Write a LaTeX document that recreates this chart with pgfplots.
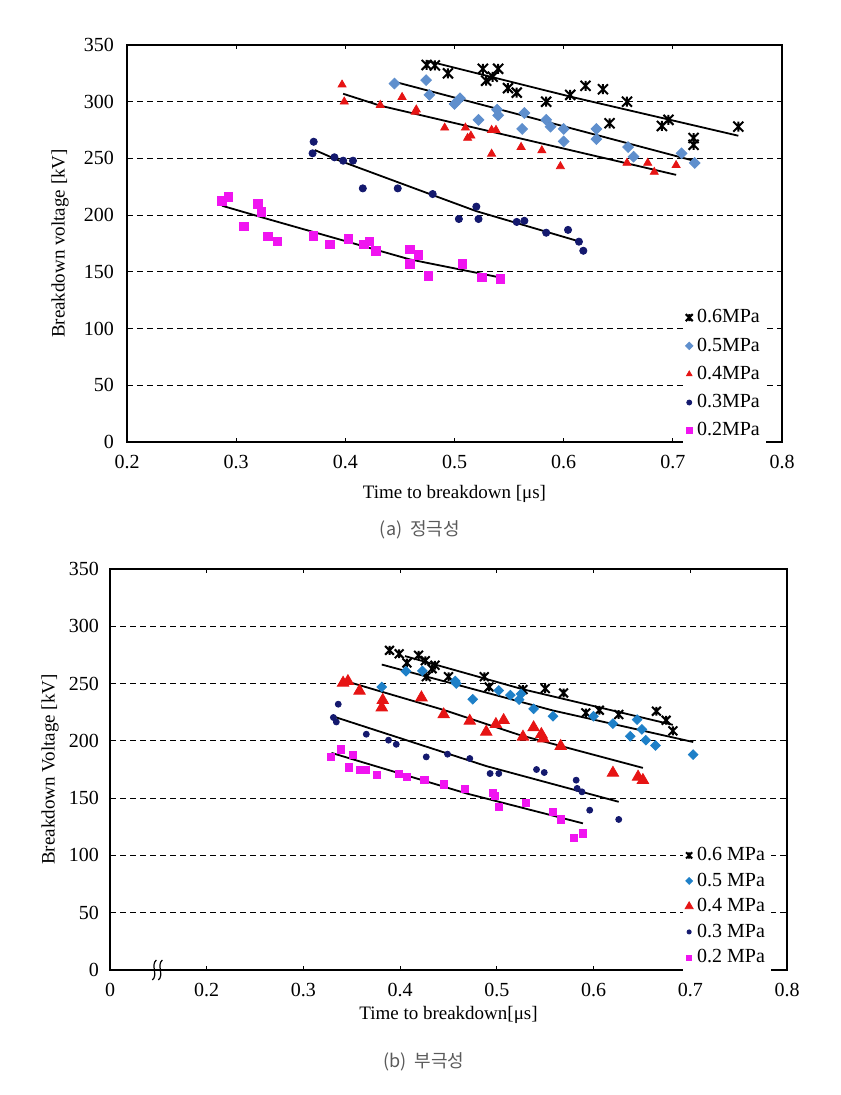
\documentclass[border=0pt]{standalone}
\usepackage{fontspec}
\setmainfont{Liberation Serif}
\newfontfamily\krfont{Noto Sans CJK KR}
\usepackage{pgfplots}
\pgfplotsset{compat=1.18}

\definecolor{cfive}{RGB}{95,143,205}
\definecolor{cfiveb}{RGB}{30,128,200}
\definecolor{cfour}{RGB}{230,20,20}
\definecolor{cthree}{RGB}{20,25,110}
\definecolor{ctwo}{RGB}{240,20,240}
\definecolor{capgray}{RGB}{90,90,90}

% Excel style star: X with a vertical bar
\pgfdeclareplotmark{xstar}{%
  \pgfpathmoveto{\pgfqpoint{-\pgfplotmarksize}{-\pgfplotmarksize}}%
  \pgfpathlineto{\pgfqpoint{\pgfplotmarksize}{\pgfplotmarksize}}%
  \pgfpathmoveto{\pgfqpoint{-\pgfplotmarksize}{\pgfplotmarksize}}%
  \pgfpathlineto{\pgfqpoint{\pgfplotmarksize}{-\pgfplotmarksize}}%
  \pgfpathmoveto{\pgfqpoint{0pt}{-\pgfplotmarksize}}%
  \pgfpathlineto{\pgfqpoint{0pt}{\pgfplotmarksize}}%
  \pgfusepathqstroke}

\pgfplotsset{
  trend/.style={black, line width=0.9pt, no marks, forget plot},
  bdv/.style={
    scale only axis,
    anchor=south west,
    axis line style={line width=1pt},
    ymin=0, ymax=350, ytick={0,50,...,350},
    ymajorgrids,
    major grid style={black, dash pattern=on 3pt off 2pt, line width=0.5pt},
    tick align=inside,
    major tick length=2pt,
    tick style={black, line width=0.5pt},
    ytick style={draw=none},
    /pgf/number format/assume math mode=true,
    ticklabel style={font=\fontsize{10}{12}\selectfont},
    xticklabel style={yshift=-3pt},
    label style={font=\fontsize{9.5}{11}\selectfont},
    legend cell align=left,
    legend style={draw=none, fill=white, font=\fontsize{10}{12}\selectfont,
      anchor=north west, inner sep=1pt},
    legend image code/.code={\draw[every mark/.append style={scale=0.7}] plot coordinates {(0.12cm,0cm)};},
  },
}

\begin{document}
\begin{tikzpicture}
\path[use as bounding box] (0,0) rectangle (420pt,-547.5pt);

% ---------------- (a) positive polarity ----------------
\begin{axis}[bdv,
  at={(63.5pt,-221pt)}, width=327.5pt, height=198.5pt,
  xmin=0.2, xmax=0.8,
  xtick={0.2,0.3,0.4,0.5,0.6,0.7,0.8},
  xticklabels={0.2,0.3,0.4,0.5,0.6,0.7,0.8},
  ytick={0,50,150,200,250,300,350},
  yticklabel style={xshift=-3pt},
  extra y ticks={100}, extra y tick labels={100},
  extra y tick style={major grid style={black, line width=0.9pt, dash pattern=on 3pt off 2pt}},
  xlabel={Time to breakdown [μs]},
  ylabel={Breakdown voltage [kV]},
  xlabel style={at={(axis description cs:0.5,-0.131)}, anchor=center},
  ylabel style={at={(axis description cs:-0.102,0.5)}, anchor=center},
  legend style={at={(0.849,0.35)}, row sep=2pt},
]
\addplot[only marks, black, mark=xstar, mark size=2.5pt, line width=1pt] coordinates {
  (0.4745,332.4)(0.482,332)(0.494,325)(0.526,329)(0.540,329)(0.529,318.5)(0.535,322)
  (0.549,312)(0.557,308)(0.584,300)(0.606,306)(0.620,314)(0.636,311)(0.658,300)
  (0.642,281)(0.690,278.6)(0.696,284)(0.760,278)(0.719,268)(0.719,262)};
\addlegendentry{0.6MPa}
\addplot[only marks, cfive, mark=square*, mark size=1.9pt, mark options={rotate=45}] coordinates {
  (0.445,316)(0.474,319)(0.477,306)(0.505,303)(0.500,298)(0.539,293)(0.540,288)
  (0.522,284)(0.564,290)(0.562,276)(0.584,284)(0.588,278)(0.600,276)(0.600,265)
  (0.630,276)(0.630,267)(0.659,260)(0.664,251.5)(0.708,254.5)(0.720,246)};
\addlegendentry{0.5MPa}
\addplot[only marks, cfour, mark=triangle*, mark size=2.3pt] coordinates {
  (0.397,315)(0.399,300)(0.432,297)(0.452,304)(0.464,291)(0.465,293)(0.491,277)
  (0.510,277)(0.534,275)(0.538,275)(0.512,268)(0.515,270)(0.534,254)(0.561,260)
  (0.580,257)(0.597,243)(0.658,246)(0.677,246)(0.683,238)(0.703,244)};
\addlegendentry{0.4MPa}
\addplot[only marks, cthree, mark=*, mark size=1.8pt] coordinates {
  (0.371,264.7)(0.370,254.5)(0.390,251)(0.398,248)(0.407,248)(0.416,223.6)(0.448,223.6)
  (0.480,218.6)(0.520,207.5)(0.504,196.6)(0.522,196.6)(0.557,194)(0.564,195)
  (0.584,184.5)(0.604,187)(0.614,176.6)(0.618,168.6)};
\addlegendentry{0.3MPa}
\addplot[only marks, ctwo, mark=square*, mark size=2.1pt] coordinates {
  (0.287,212.7)(0.293,216)(0.307,190)(0.320,210)(0.323,203)(0.329,181)(0.338,176.6)
  (0.371,181.6)(0.386,174.3)(0.403,179)(0.417,174.3)(0.422,176.6)(0.428,168.4)
  (0.459,170)(0.467,165)(0.459,157)(0.476,146.6)(0.507,157)(0.525,144.9)(0.542,143.7)};
\addlegendentry{0.2MPa}
% fitted trend lines
\addplot[trend] coordinates {(0.475,336)(0.606,304.5)(0.760,270)};
\addplot[trend] coordinates {(0.445,317.6)(0.584,282.4)(0.719,248)};
\addplot[trend] coordinates {(0.398,307)(0.432,296.5)(0.703,235.5)};
\addplot[trend] coordinates {(0.372,257.4)(0.392,249)(0.4805,217.5)(0.520,203.5)(0.615,176.6)};
\addplot[trend] coordinates {(0.287,208.3)(0.331,196)(0.459,161)(0.542,145)};
\end{axis}
\node[font=\krfont\fontsize{9}{11}\selectfont, text=capgray] at (210pt,-265pt) {(a)\ \ 정극성};

% ---------------- (b) negative polarity ----------------
\begin{axis}[bdv,
  at={(55pt,-485pt)}, width=338.5pt, height=200.5pt,
  xmin=0.1, xmax=0.8,
  xtick={0.1,0.2,0.3,0.4,0.5,0.6,0.7,0.8},
  xticklabels={0,0.2,0.3,0.4,0.5,0.6,0.7,0.8},
  yticklabel style={xshift=-2pt},
  xlabel={Time to breakdown[μs]},
  ylabel={Breakdown Voltage [kV]},
  xlabel style={at={(axis description cs:0.5,-0.112)}, anchor=center},
  ylabel style={at={(axis description cs:-0.0886,0.5)}, anchor=center},
  legend style={at={(0.846,0.322)}, row sep=0.6pt},
]
\addplot[only marks, black, mark=xstar, mark size=2.2pt, line width=1pt] coordinates {
  (0.389,279)(0.399,276)(0.407,268)(0.419,274.7)(0.426,270)(0.436,266)(0.433,263)
  (0.427,256)(0.450,256)(0.487,256)(0.492,247)(0.527,244.8)(0.550,245.7)(0.569,241.8)
  (0.592,224.4)(0.606,226.7)(0.626,223)(0.665,225.9)(0.675,218)(0.682,208.7)};
\addlegendentry{0.6 MPa}
\addplot[only marks, cfiveb, mark=square*, mark size=1.7pt, mark options={rotate=45}] coordinates {
  (0.381,247)(0.406,260.8)(0.423,261)(0.457,252.3)(0.458,250)(0.475,236.3)(0.502,244)
  (0.514,240)(0.523,236)(0.525,241)(0.538,228)(0.558,221.5)(0.600,221.5)(0.620,215)
  (0.645,218.6)(0.650,210)(0.638,204)(0.654,200.6)(0.664,196)(0.703,188)};
\addlegendentry{0.5 MPa}
\addplot[only marks, cfour, mark=triangle*, mark size=3.3pt] coordinates {
  (0.341,250.6)(0.346,252)(0.358,243.6)(0.382,235.5)(0.381,229)(0.422,237.8)(0.445,223)
  (0.472,217.4)(0.489,207.8)(0.499,214.5)(0.507,218)(0.527,203.5)(0.538,211.7)
  (0.546,205.8)(0.548,202)(0.566,195.4)(0.620,172)(0.646,168.6)(0.651,165.7)};
\addlegendentry{0.4 MPa}
\addplot[only marks, cthree, mark=*, mark size=1.5pt] coordinates {
  (0.336,232)(0.331,220.4)(0.334,216.5)(0.365,205.8)(0.388,200.6)(0.396,197)(0.427,186)
  (0.449,188.4)(0.472,184.6)(0.493,171.5)(0.502,171.5)(0.541,175)(0.549,172.4)
  (0.582,165.7)(0.583,158.5)(0.588,155.5)(0.596,139.5)(0.626,131.4)};
\addlegendentry{0.3 MPa}
\addplot[only marks, ctwo, mark=square*, mark size=1.8pt] coordinates {
  (0.328,186)(0.339,192.5)(0.351,187.5)(0.347,176.8)(0.359,174.4)(0.364,175)(0.376,170)
  (0.399,171)(0.407,168.6)(0.425,165.7)(0.445,162)(0.467,157.9)(0.496,154.6)(0.498,152)
  (0.502,142.4)(0.530,146.2)(0.558,138)(0.566,131.4)(0.589,119.2)(0.580,115.4)};
\addlegendentry{0.2 MPa}
% fitted trend lines
\addplot[trend] coordinates {(0.405,274)(0.527,245)(0.682,214)};
\addplot[trend] coordinates {(0.381,266.6)(0.558,226.5)(0.703,199)};
\addplot[trend] coordinates {(0.343,252.3)(0.445,227)(0.524,205)(0.651,176.4)};
\addplot[trend] coordinates {(0.329,221.8)(0.489,178)(0.626,146.8)};
\addplot[trend] coordinates {(0.329,189.5)(0.469,154)(0.589,128)};
\coordinate (brk) at (axis cs:0.15,0);
\end{axis}
% axis break mark
\draw[line width=0.6pt] ([xshift=-3pt,yshift=-5pt]brk) .. controls +(3pt,2.5pt) and +(-3pt,-2.5pt) .. ([xshift=-1pt,yshift=5pt]brk);
\draw[line width=0.6pt] ([xshift=0pt,yshift=-5pt]brk) .. controls +(3pt,2.5pt) and +(-3pt,-2.5pt) .. ([xshift=2pt,yshift=5pt]brk);
\node[font=\krfont\fontsize{9}{11}\selectfont, text=capgray] at (212pt,-531pt) {(b)\ \ 부극성};
\end{tikzpicture}
\end{document}
